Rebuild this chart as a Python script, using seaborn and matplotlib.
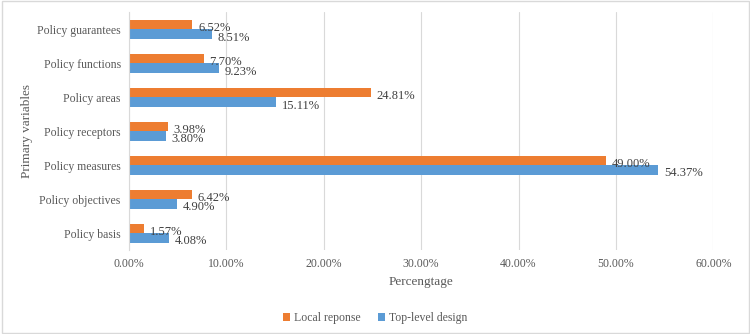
import pandas as pd
import seaborn as sns
import matplotlib.pyplot as plt
from matplotlib.ticker import FuncFormatter

# Data (percent)
categories = ["Policy guarantees", "Policy functions", "Policy areas", "Policy receptors",
              "Policy measures", "Policy objectives", "Policy basis"]
local_response = [6.52, 7.70, 24.81, 3.98, 49.00, 6.42, 1.57]
top_level_design = [8.51, 9.23, 15.11, 3.80, 54.37, 4.90, 4.08]
series_names = ["Local reponse", "Top-level design"]

df = pd.DataFrame({
    "variable": categories * 2,
    "value": local_response + top_level_design,
    "series": [series_names[0]] * len(categories) + [series_names[1]] * len(categories),
})

sns.set_style("white")
plt.rcParams['font.family'] = ['Liberation Serif', 'DejaVu Serif']
text_color = "#595959"

fig = plt.figure(figsize=(7.5, 3.34), dpi=100)
ax = fig.add_axes([0.172, 0.251, 0.779, 0.712])

sns.barplot(data=df, y="variable", x="value", hue="series", order=categories,
            hue_order=series_names, palette=["#ED7D31", "#5B9BD5"],
            width=0.56, saturation=1, linewidth=0, ax=ax, orient="h")

# value labels: right of each bar, nudged a little below the bar centre
for cont in ax.containers:
    for bar, v in zip(cont, cont.datavalues):
        ax.annotate(f"{v:.2f}%", (bar.get_width(), bar.get_y() + bar.get_height() / 2),
                    xytext=(4, -2.5), textcoords="offset points", va="center",
                    ha="left", fontsize=9, color="#404040")

ax.set_xlim(0, 60)
ax.set_xticks(range(0, 61, 10))
ax.xaxis.set_major_formatter(FuncFormatter(lambda v, p: f"{v:.2f}%"))
ax.grid(axis="x", color="#d9d9d9", linewidth=0.8)
ax.set_axisbelow(True)
for s in ["top", "right", "bottom"]:
    ax.spines[s].set_visible(False)
ax.spines["left"].set_color("#d9d9d9")
ax.tick_params(axis="both", length=0, labelsize=8.5, colors=text_color, pad=6)
ax.set_xlabel("Percengtage", fontsize=9.5, color=text_color, labelpad=4)
ax.set_ylabel("Primary variables", fontsize=9.5, color=text_color, labelpad=3)

handles, labels = ax.get_legend_handles_labels()
ax.legend_.remove()
fig.legend(handles, labels, loc="center", bbox_to_anchor=(0.5, 0.048), ncol=2,
           frameon=False, fontsize=8.5, handlelength=0.6, handleheight=0.6,
           columnspacing=1.5, handletextpad=0.3, labelcolor=text_color)

# thin light border around the whole figure
fig.patches.append(plt.Rectangle((0.002, 0.003), 0.996, 0.994, transform=fig.transFigure,
                                 fill=False, edgecolor="#d9d9d9", linewidth=1))

fig.savefig("out.png", dpi=100)
